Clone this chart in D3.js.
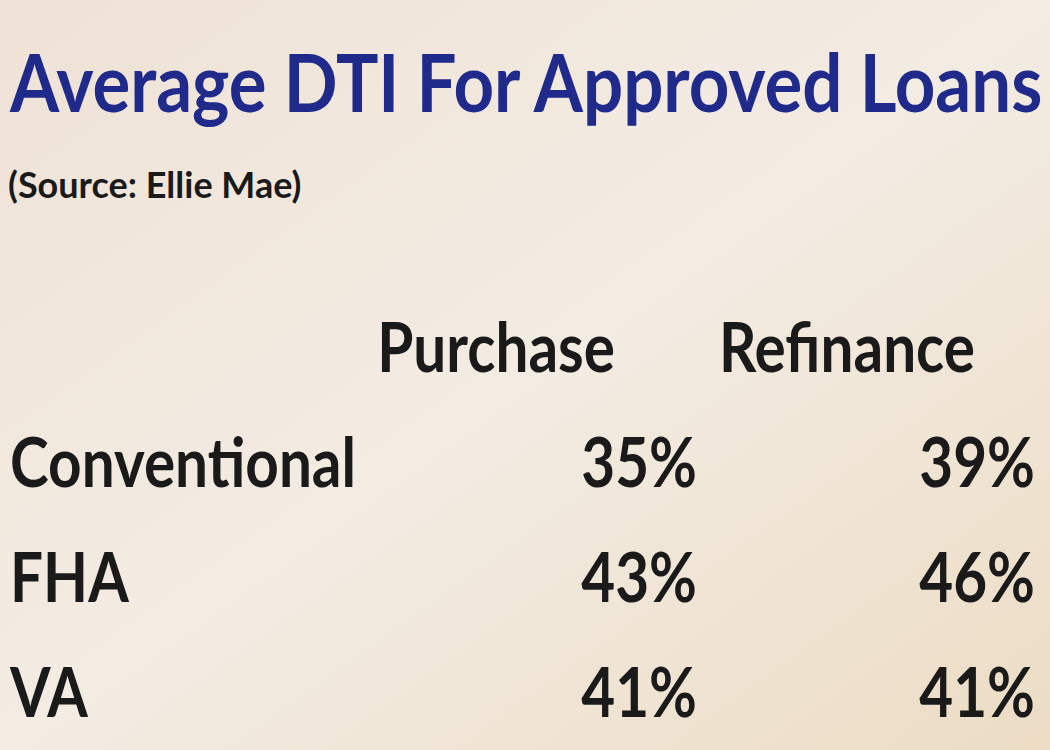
<!DOCTYPE html>
<html><head><meta charset="utf-8">
<script src="https://cdn.jsdelivr.net/npm/d3@7"></script>
<style>body{margin:0;overflow:hidden}</style>
</head><body>
<script>
const categories = ["Conventional", "FHA", "VA"];
const columns = ["Purchase", "Refinance"];
const purchase = [35, 43, 41];
const refinance = [39, 46, 41];
const title = "Average DTI For Approved Loans";
const subtitle = "(Source: Ellie Mae)";

const W = 1050, H = 750;
const svg = d3.select("body").append("svg").attr("width", W).attr("height", H);
const defs = svg.append("defs");
const g = defs.append("linearGradient").attr("id","bg").attr("x1",0).attr("y1",0).attr("x2",1).attr("y2",1);
g.append("stop").attr("offset","0%").attr("stop-color","#efe2d6");
g.append("stop").attr("offset","50%").attr("stop-color","#f3ece3");
g.append("stop").attr("offset","100%").attr("stop-color","#ecdcc4");
svg.append("rect").attr("width",W).attr("height",H).attr("fill","url(#bg)");

const font = "Lato, 'Open Sans', sans-serif";
function cond(sel, x, y, anchor, sx) {
  sel.attr("transform", `translate(${x},${y}) scale(${sx},1)`).attr("text-anchor", anchor);
}
const tt = svg.append("text").text(title)
  .attr("font-family",font).attr("font-weight",700).attr("font-size",80).attr("fill","#1f2a8a");
cond(tt, 10, 112, "start", 0.885);
const st = svg.append("text").text(subtitle)
  .attr("font-family",font).attr("font-weight",700).attr("font-size",36).attr("fill","#1a1a1a");
cond(st, 8, 198, "start", 1.0);

const sx = 0.86;
const x = d3.scaleOrdinal().domain(columns).range([697, 1035]);
const hdrRight = d3.scaleOrdinal().domain(columns).range([615, 975]);
const y = d3.scaleBand().domain(categories).range([430, 775]);
const rowY = d => y(d) + 57;

svg.selectAll(".hdr").data(columns).join("text").text(d => d)
  .attr("font-family",font).attr("font-weight",700).attr("font-size",68).attr("fill","#1a1a1a")
  .each(function(d){ cond(d3.select(this), hdrRight(d), 372, "end", sx); });

svg.selectAll(".lab").data(categories).join("text").text(d => d)
  .attr("font-family",font).attr("font-weight",700).attr("font-size",68).attr("fill","#1a1a1a")
  .each(function(d){ cond(d3.select(this), 10, rowY(d), "start", sx); });

[purchase, refinance].forEach((vals, ci) => {
  svg.selectAll(".v"+ci).data(vals).join("text").text(d => d + "%")
    .attr("font-family",font).attr("font-weight",700).attr("font-size",68).attr("fill","#1a1a1a")
    .each(function(d,i){ cond(d3.select(this), x(columns[ci]), rowY(categories[i]), "end", sx); });
});
</script>
</body></html>
